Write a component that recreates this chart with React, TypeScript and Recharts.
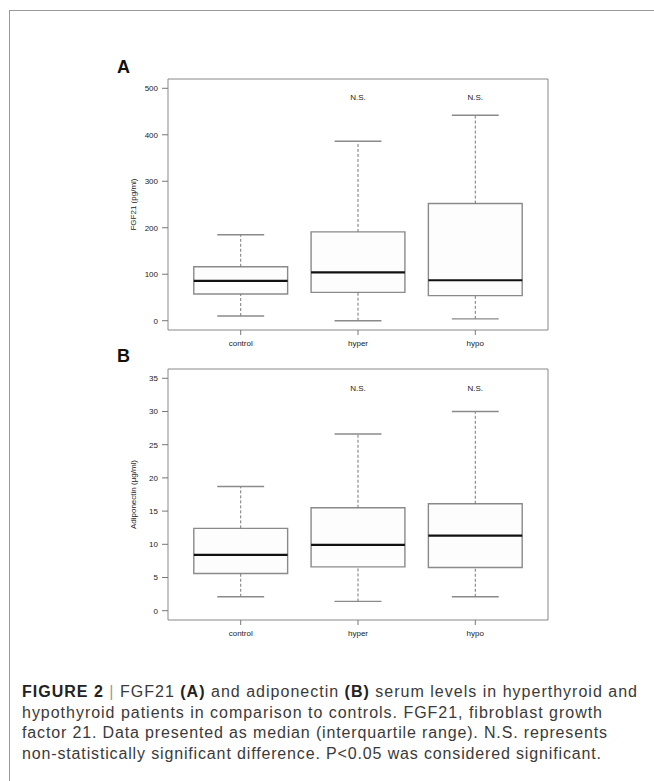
import React from 'react';
import {
  ComposedChart,
  XAxis,
  YAxis,
  Scatter,
  ReferenceArea,
  ReferenceLine,
} from 'recharts';

// --- data ---
const GROUPS = ['control', 'hyper', 'hypo'];
const GROUP_POS = [1, 2, 3];
const NS_LABELS = ['', 'N.S.', 'N.S.'];

// FGF21 (pg/ml)
const FGF21_MIN = [10, 0, 4];
const FGF21_Q1 = [57.5, 61, 54];
const FGF21_MEDIAN = [85.5, 104, 87];
const FGF21_Q3 = [116, 191, 252];
const FGF21_MAX = [185, 386, 442];
const FGF21_TICKS = [0, 100, 200, 300, 400, 500];

// Adiponectin (µg/ml)
const ADIPO_MIN = [2.1, 1.4, 2.1];
const ADIPO_Q1 = [5.6, 6.6, 6.5];
const ADIPO_MEDIAN = [8.4, 9.9, 11.3];
const ADIPO_Q3 = [12.4, 15.5, 16.1];
const ADIPO_MAX = [18.7, 26.6, 30.0];
const ADIPO_TICKS = [0, 5, 10, 15, 20, 25, 30, 35];

const FONT = '"Liberation Sans", Arial, Helvetica, sans-serif';
const BOX_HALF = 0.4;
const CAP_HALF = 0.2;
const X_DOMAIN: [number, number] = [0.38, 3.62];

interface PanelProps {
  top: number;
  min: number[];
  q1: number[];
  median: number[];
  q3: number[];
  max: number[];
  ticks: number[];
  domain: [number, number];
  nsY: number;
  yLabel: string;
}

const BoxPanel: React.FC<PanelProps> = ({ top, min, q1, median, q3, max, ticks, domain, nsY, yLabel }) => {
  const nsData = GROUP_POS.map((x, i) => ({ x, y: nsY, label: NS_LABELS[i] }));

  return (
    <div style={{ position: 'absolute', left: 0, top }}>
      <ComposedChart
        width={654}
        height={380}
        margin={{ top: 79, right: 106, bottom: 20, left: 128 }}
        style={{ fontFamily: FONT }}
      >
        <XAxis
          type="number"
          dataKey="x"
          domain={X_DOMAIN}
          ticks={GROUP_POS}
          tickFormatter={(v: number) => GROUPS[v - 1]}
          allowDataOverflow
          height={30}
          axisLine={false}
          tickSize={5}
          tickMargin={5}
          tickLine={{ stroke: '#777' }}
          tick={{ fill: '#222', fontSize: 8 }}
        />
        <YAxis
          type="number"
          dataKey="y"
          domain={domain}
          ticks={ticks}
          allowDataOverflow
          width={40}
          axisLine={false}
          tickSize={6}
          tickMargin={4}
          tickLine={{ stroke: '#777' }}
          tick={{ fill: '#222', fontSize: 8 }}
          label={{ value: yLabel, angle: -90, position: 'insideLeft', offset: 5, style: { fontSize: 8, fill: '#222', textAnchor: 'middle' } }}
        />
        {/* plot frame */}
        <ReferenceArea x1={X_DOMAIN[0]} x2={X_DOMAIN[1]} y1={domain[0]} y2={domain[1]} fill="none" stroke="#888" strokeWidth={1} />
        {GROUP_POS.map((x, i) => (
          <ReferenceArea
            key={`box-${i}`}
            x1={x - BOX_HALF}
            x2={x + BOX_HALF}
            y1={q1[i]}
            y2={q3[i]}
            fill="#fdfdfd"
            fillOpacity={1}
            stroke="#8a8a8a"
            strokeWidth={1.4}
          />
        ))}
        {GROUP_POS.map((x, i) => (
          <ReferenceLine key={`wl-${i}`} segment={[{ x, y: min[i] }, { x, y: q1[i] }]} stroke="#777" strokeDasharray="3 2" strokeWidth={1} />
        ))}
        {GROUP_POS.map((x, i) => (
          <ReferenceLine key={`wu-${i}`} segment={[{ x, y: q3[i] }, { x, y: max[i] }]} stroke="#777" strokeDasharray="3 2" strokeWidth={1} />
        ))}
        {GROUP_POS.map((x, i) => (
          <ReferenceLine key={`cl-${i}`} segment={[{ x: x - CAP_HALF, y: min[i] }, { x: x + CAP_HALF, y: min[i] }]} stroke="#8a8a8a" strokeWidth={1.4} />
        ))}
        {GROUP_POS.map((x, i) => (
          <ReferenceLine key={`cu-${i}`} segment={[{ x: x - CAP_HALF, y: max[i] }, { x: x + CAP_HALF, y: max[i] }]} stroke="#8a8a8a" strokeWidth={1.4} />
        ))}
        {GROUP_POS.map((x, i) => (
          <ReferenceLine key={`md-${i}`} segment={[{ x: x - BOX_HALF, y: median[i] }, { x: x + BOX_HALF, y: median[i] }]} stroke="#111" strokeWidth={2.2} />
        ))}
        <Scatter
          data={nsData}
          isAnimationActive={false}
          shape={(p: any) => (
            <text x={p.cx} y={p.cy} textAnchor="middle" dominantBaseline="central" fontSize={8} fill="#222" fontFamily={FONT}>
              {p.payload.label}
            </text>
          )}
        />
      </ComposedChart>
    </div>
  );
};

const CAPTION = [
  [['FIGURE 2', true], [' ', false], ['|', 'bar'], [' FGF21 ', false], ['(A)', true], [' and adiponectin ', false], ['(B)', true], [' serum levels in hyperthyroid and', false]],
  [['hypothyroid patients in comparison to controls. FGF21, fibroblast growth', false]],
  [['factor 21. Data presented as median (interquartile range). N.S. represents', false]],
  [['non-statistically significant difference. P<0.05 was considered significant.', false]],
] as [string, boolean | string][][];
const CAPTION_WIDTHS = [615, 580, 585, 579];

const App: React.FC = () => {
  return (
    <div style={{ position: 'absolute', left: 0, top: 0, width: 654, height: 781, overflow: 'hidden', background: '#fff' }}>
      <div style={{ position: 'absolute', left: 9, top: 10, width: 800, height: 900, borderTop: '1px solid #9a9a9a', borderLeft: '1px solid #9a9a9a' }} />
      <BoxPanel
        top={0}
        min={FGF21_MIN}
        q1={FGF21_Q1}
        median={FGF21_MEDIAN}
        q3={FGF21_Q3}
        max={FGF21_MAX}
        ticks={FGF21_TICKS}
        domain={[-20, 520]}
        nsY={480}
        yLabel="FGF21 (pg/ml)"
      />
      <BoxPanel
        top={290}
        min={ADIPO_MIN}
        q1={ADIPO_Q1}
        median={ADIPO_MEDIAN}
        q3={ADIPO_Q3}
        max={ADIPO_MAX}
        ticks={ADIPO_TICKS}
        domain={[-1.4, 36.4]}
        nsY={33.4}
        yLabel="Adiponectin (µg/ml)"
      />
      <svg width={654} height={781} style={{ position: 'absolute', left: 0, top: 0, pointerEvents: 'none' }}>
        <text x={117} y={73} fontSize={18} fontWeight="bold" fontFamily={FONT} fill="#111">A</text>
        <text x={117} y={362} fontSize={18} fontWeight="bold" fontFamily={FONT} fill="#111">B</text>
        {CAPTION.map((line, li) => (
          <text
            key={li}
            x={22}
            y={697 + li * 20.7}
            fontSize={16}
            fontFamily={FONT}
            fill="#3a3a3a"
            textLength={CAPTION_WIDTHS[li]}
            lengthAdjust="spacing"
          >
            {line.map(([s, b], j) => (
              <tspan key={j} fontWeight={b === true ? 'bold' : 'normal'} fill={b === true ? '#222' : b === 'bar' ? '#999' : '#3a3a3a'}>
                {s}
              </tspan>
            ))}
          </text>
        ))}
      </svg>
    </div>
  );
};

export default App;
